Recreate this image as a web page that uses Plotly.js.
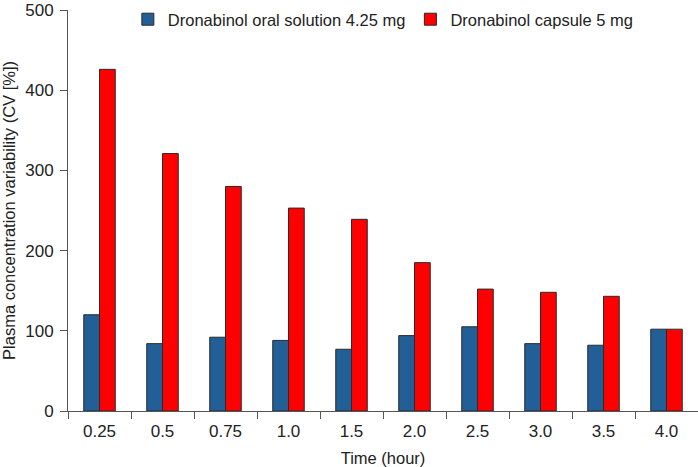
<!DOCTYPE html>
<html>
<head>
<meta charset="utf-8">
<script src="https://cdn.plot.ly/plotly-3.0.1.min.js"></script>
<style>html,body{margin:0;padding:0;background:#fff;}#chart{width:698px;height:467px;}</style>
</head>
<body>
<div id="chart"></div>
<script>
var categories = ["0.25", "0.5", "0.75", "1.0", "1.5", "2.0", "2.5", "3.0", "3.5", "4.0"];
var oralSolution = [120, 84, 92, 88, 77, 94, 105, 84, 82, 102];
var capsule = [426, 321, 280, 253, 239, 185, 152, 148, 143, 102];
var seriesNames = ["Dronabinol oral solution 4.25 mg", "Dronabinol capsule 5 mg"];
var yTicks = [0, 100, 200, 300, 400, 500];

var fontFam = "Liberation Sans, Arial, sans-serif";
var traces = [
  {type: "bar", x: categories, y: oralSolution, name: seriesNames[0],
   marker: {color: "#235f97", line: {color: "#2a2a2a", width: 1}}},
  {type: "bar", x: categories, y: capsule, name: seriesNames[1],
   marker: {color: "#ff0000", line: {color: "#2a2a2a", width: 1}}}
];
var layout = {
  width: 698, height: 467,
  margin: {l: 68, r: 0, t: 10, b: 56, autoexpand: false},
  paper_bgcolor: "#fff", plot_bgcolor: "#fff",
  font: {family: fontFam, size: 17, color: "#222"},
  barmode: "group", bargap: 0.5, bargroupgap: 0,
  showlegend: true,
  legend: {orientation: "h", x: 0.095, y: 1.02, xanchor: "left", yanchor: "top",
           font: {family: fontFam, size: 16.5, color: "#222"}, itemwidth: 30,
           bgcolor: "rgba(0,0,0,0)"},
  xaxis: {type: "category", showline: true, linecolor: "#555", linewidth: 1,
          ticks: "outside", ticklen: 7, tickcolor: "#555", tickson: "boundaries",
          ticklabelstandoff: 5,
          showgrid: false, zeroline: false,
          title: {text: "Time (hour)", font: {family: fontFam, size: 16.5, color: "#222"}, standoff: 14}},
  yaxis: {range: [0, 500], tickvals: yTicks, showline: true, linecolor: "#555", linewidth: 1,
          ticks: "outside", ticklen: 7, tickcolor: "#555", showgrid: false, zeroline: false,
          ticklabeloverflow: "allow", ticklabelstandoff: 3,
          title: {text: "Plasma concentration variability (CV [%])", font: {family: fontFam, size: 16.5, color: "#222"}, standoff: 8}}
};
Plotly.newPlot("chart", traces, layout, {displayModeBar: false, staticPlot: true});
</script>
</body>
</html>
